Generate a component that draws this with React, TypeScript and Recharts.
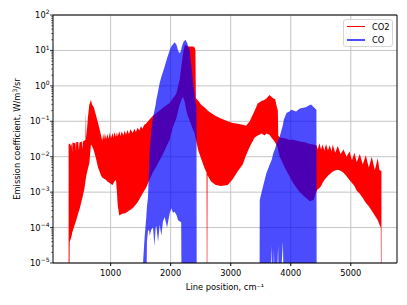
import { ComposedChart, Area, XAxis, YAxis, CartesianGrid, Legend, ReferenceLine } from 'recharts';

// [line position cm^-1, lower envelope, upper envelope] in W/m3/sr
const co2Envelope = [
  [300, 1e-6, 0.022], [312, 1e-6, 0.023], [318, 4e-5, 0.024], [340, 5e-5, 0.02],
  [352, 6e-5, 0.024], [358, 7e-5, 0.013], [364, 7.5e-5, 0.025], [395, 1.1e-4, 0.024],
  [415, 1.4e-4, 0.025], [421, 1.5e-4, 0.014], [427, 1.6e-4, 0.026], [460, 2.5e-4, 0.026],
  [472, 3e-4, 0.015], [480, 3.2e-4, 0.025], [520, 6e-4, 0.027], [530, 7e-4, 0.016],
  [538, 8e-4, 0.027], [562, 1.2e-3, 0.028], [580, 2e-3, 0.03], [588, 2.5e-3, 0.19],
  [596, 3e-3, 0.035], [620, 4.5e-3, 0.12], [645, 6.5e-3, 0.3], [672, 0.022, 0.4],
  [690, 0.02, 0.3], [720, 0.015, 0.25], [755, 9e-3, 0.15], [790, 5e-3, 0.09],
  [811, 4e-3, 0.065], [838, 3e-3, 0.042], [860, 2.6e-3, 0.028], [875, 2.5e-3, 0.045],
  [890, 2.4e-3, 0.03], [905, 2.3e-3, 0.046], [925, 2.2e-3, 0.031], [945, 2e-3, 0.044],
  [965, 1.9e-3, 0.032], [985, 1.8e-3, 0.048], [1005, 1.7e-3, 0.033], [1033, 1.6e-3, 0.047],
  [1050, 1.8e-3, 0.034], [1061, 2e-3, 0.05], [1089, 2.2e-3, 0.036], [1105, 1e-3, 0.05],
  [1117, 4.4e-4, 0.037], [1144, 2.2e-4, 0.052], [1165, 2.3e-4, 0.038], [1185, 2.4e-4, 0.053],
  [1210, 2.5e-4, 0.04], [1235, 2.5e-4, 0.055], [1256, 2.6e-4, 0.042], [1280, 2.8e-4, 0.057],
  [1305, 3e-4, 0.044], [1330, 3.2e-4, 0.06], [1367, 3.5e-4, 0.047], [1395, 4e-4, 0.062],
  [1420, 4.5e-4, 0.05], [1450, 5.2e-4, 0.066], [1478, 6.3e-4, 0.055], [1505, 7.5e-4, 0.072],
  [1530, 9e-4, 0.062], [1560, 1.1e-3, 0.08], [1589, 1.3e-3, 0.085], [1644, 2.2e-3, 0.11],
  [1700, 3.5e-3, 0.14], [1780, 6e-3, 0.18], [1872, 0.012, 0.24], [1983, 0.03, 0.33],
  [2039, 0.07, 0.45], [2094, 0.12, 0.6], [2150, 0.3, 1.5], [2178, 0.4, 3.5],
  [2206, 0.5, 8], [2233, 0.35, 14], [2261, 0.2, 14], [2280, 0.15, 13],
  [2320, 0.1, 13], [2372, 0.058, 13], [2400, 0.045, 12], [2412, 0.035, 10],
  [2420, 0.03, 0.45], [2460, 0.015, 0.38], [2505, 9e-3, 0.3], [2560, 5e-3, 0.25],
  [2598, 3.5e-3, 0.22], [2603, 1e-6, 0.21], [2609, 1e-6, 0.21], [2614, 3e-3, 0.2],
  [2672, 2e-3, 0.17], [2750, 1.6e-3, 0.14], [2839, 1.5e-3, 0.12], [2950, 1.6e-3, 0.1],
  [3033, 2.3e-3, 0.09], [3117, 3.9e-3, 0.085], [3200, 6e-3, 0.08], [3256, 0.011, 0.075],
  [3317, 0.019, 0.1], [3400, 0.035, 0.2], [3450, 0.04, 0.32], [3520, 0.045, 0.38],
  [3561, 0.04, 0.4], [3600, 0.045, 0.45], [3645, 0.042, 0.55], [3706, 0.03, 0.45],
  [3740, 0.025, 0.42], [3772, 0.02, 0.24], [3785, 0.018, 0.2], [3792, 0.015, 0.04],
  [3817, 0.01, 0.035], [3900, 5e-3, 0.033], [3970, 3e-3, 0.03], [4039, 1.8e-3, 0.03],
  [4150, 1e-3, 0.027], [4250, 7e-4, 0.025], [4317, 5.5e-4, 0.023], [4380, 6e-4, 0.022],
  [4428, 1.05e-3, 0.021], [4450, 1.2e-3, 0.016], [4478, 1.3e-3, 0.024], [4505, 1.5e-3, 0.016],
  [4530, 1.8e-3, 0.022], [4560, 2.2e-3, 0.015], [4588, 2.5e-3, 0.023], [4620, 2.9e-3, 0.015],
  [4650, 3.2e-3, 0.021], [4680, 3.6e-3, 0.014], [4700, 3.8e-3, 0.022], [4740, 4.1e-3, 0.013],
  [4783, 4.3e-3, 0.02], [4830, 4e-3, 0.012], [4880, 3.5e-3, 0.016], [4930, 2.8e-3, 0.01],
  [4978, 2.2e-3, 0.014], [5020, 1.8e-3, 0.008], [5061, 1.5e-3, 0.013], [5100, 1.1e-3, 0.007],
  [5150, 9e-4, 0.012], [5200, 6.8e-4, 0.006], [5250, 5e-4, 0.011], [5300, 4e-4, 0.005],
  [5350, 3e-4, 0.01], [5400, 2.2e-4, 0.0042], [5450, 1.6e-4, 0.009], [5478, 1.2e-4, 0.0042],
  [5500, 1e-4, 0.004], [5505, 1e-6, 0.004], [5511, 1e-6, 0.004],
];

const coEnvelope = [
  [1538, 1e-6, 1e-6], [1542, 1e-6, 1.2e-5], [1567, 1e-6, 5.6e-5], [1594, 1e-6, 2e-4],
  [1605, 4e-5, 4e-4], [1622, 8e-5, 7e-4], [1640, 8.5e-5, 5e-3], [1650, 6e-5, 0.015],
  [1680, 9e-5, 0.06], [1706, 1e-4, 0.13], [1730, 3e-5, 0.2], [1750, 1e-4, 0.3],
  [1761, 1.1e-4, 0.4], [1790, 4e-5, 0.7], [1817, 1.2e-4, 1.2], [1845, 6e-5, 1.8],
  [1872, 1.5e-4, 2.5], [1900, 2e-4, 3.5], [1940, 1e-4, 6], [1983, 2.5e-4, 10],
  [2010, 3.5e-4, 13], [2039, 2.6e-4, 15], [2067, 2.8e-4, 17], [2100, 2.2e-4, 14],
  [2122, 1.6e-4, 10], [2150, 1.5e-4, 8.3], [2175, 1.4e-4, 10], [2182, 1e-6, 12],
  [2210, 1e-6, 17], [2244, 1e-6, 20], [2270, 1e-6, 17], [2317, 1e-6, 10],
  [2350, 1e-6, 3], [2380, 1e-6, 1], [2410, 1e-6, 0.4], [2430, 1e-6, 0.25],
  [2434, 1e-6, 1e-6],
  [3480, 1e-6, 1e-6], [3484, 1e-6, 6e-4], [3540, 1e-6, 1.5e-3], [3594, 1e-6, 3.4e-3],
  [3650, 1e-6, 6e-3], [3680, 3e-5, 8e-3], [3690, 1e-6, 9e-3], [3706, 1e-6, 0.012],
  [3720, 2.5e-5, 0.014], [3735, 1e-6, 0.016], [3760, 1e-6, 0.022], [3790, 3e-5, 0.03],
  [3800, 1e-6, 0.032], [3817, 1e-6, 0.037], [3870, 4e-5, 0.08], [3885, 1e-6, 0.11],
  [3928, 1e-6, 0.17], [3978, 1e-6, 0.19], [4011, 1e-6, 0.21], [4089, 1e-6, 0.19],
  [4150, 1e-6, 0.23], [4250, 1e-6, 0.25], [4317, 1e-6, 0.29], [4339, 1e-6, 0.3],
  [4372, 1e-6, 0.26], [4428, 1e-6, 0.21], [4432, 1e-6, 1e-6],
];

const xTicks = [1000, 2000, 3000, 4000, 5000];
const yMajorTicks = [1e-5, 1e-4, 1e-3, 1e-2, 1e-1, 1, 10, 100];
const yExponents = ['−5', '−4', '−3', '−2', '−1', '0', '1', '2'];

const yMinorTicks: number[] = [];
yMajorTicks.slice(0, -1).forEach((base) => {
  for (let m = 2; m <= 9; m++) yMinorTicks.push(base * m);
});

const FONT = '"DejaVu Sans", sans-serif';
const RED = '#ff0000';
const BLUE = '#0000ff';

const toRows = (env: number[][]) => env.map(([x, lo, hi]) => ({ x, range: [lo, hi] }));
const co2Rows = toRows(co2Envelope);
const coRows = toRows(coEnvelope);

const LogTick = (props: any) => {
  const { x, y, payload } = props;
  const right = x + 3.5;
  const idx = yMajorTicks.findIndex((v) => Math.abs(Math.log10(v) - Math.log10(payload.value)) < 1e-6);
  if (idx < 0) {
    return <line x1={right - 1.8} x2={right} y1={y} y2={y} stroke="#000" strokeWidth={0.6} />;
  }
  return (
    <g>
      <line x1={right - 3} x2={right} y1={y} y2={y} stroke="#000" strokeWidth={0.8} />
      <text x={x} y={y + 3} textAnchor="end" fontSize={8.3} fontFamily={FONT} fill="#000">
        10<tspan dy={-3.8} fontSize={6}>{yExponents[idx]}</tspan>
      </text>
    </g>
  );
};

const YLabel = () => (
  <text
    x={17}
    y={139}
    transform="rotate(-90 17 139)"
    textAnchor="middle"
    dominantBaseline="central"
    fontSize={8.3}
    fontFamily={FONT}
    fill="#000"
  >
    Emission coefficient, W/m<tspan dy={-3} fontSize={6}>3</tspan>
    <tspan dy={3}>/sr</tspan>
  </text>
);

const legendItems = [
  { name: 'CO2', color: RED, opacity: 1 },
  { name: 'CO', color: BLUE, opacity: 0.7 },
];

const LegendBox = () => (
  <div
    style={{
      width: 50,
      height: 28,
      boxSizing: 'border-box',
      border: '1px solid #d6d6d6',
      borderRadius: 3,
      background: 'rgba(255,255,255,0.8)',
      fontFamily: FONT,
      fontSize: 8.3,
      color: '#000',
      position: 'relative',
    }}
  >
    {legendItems.map((item, i) => (
      <div key={item.name} style={{ position: 'absolute', left: 3, top: 1.5 + i * 13.7, height: 10, display: 'flex', alignItems: 'center' }}>
        <div style={{ width: 18, height: 1.5, background: item.color, opacity: item.opacity }} />
        <span style={{ marginLeft: 7, lineHeight: '10px' }}>{item.name}</span>
      </div>
    ))}
  </div>
);

export default function App() {
  return (
    <div style={{ position: 'absolute', left: 0, top: 0, width: 407, height: 305, background: '#fff' }}>
      <ComposedChart width={407} height={305} margin={{ top: 15, right: 10, left: 0, bottom: 0 }}>
        <CartesianGrid stroke="#c4c4c4" strokeWidth={1} horizontalValues={yMajorTicks} verticalValues={xTicks} />
        <XAxis
          type="number"
          dataKey="x"
          domain={[40, 5770]}
          allowDataOverflow
          ticks={xTicks}
          interval={0}
          tickSize={3}
          tickMargin={4}
          height={42}
          tick={{ fontSize: 8.3, fill: '#000', fontFamily: FONT }}
          tickLine={{ stroke: '#000' }}
          axisLine={{ stroke: '#000' }}
          label={{ value: 'Line position, cm⁻¹', position: 'insideBottom', offset: 15, fontSize: 8.3, fill: '#000', fontFamily: FONT }}
        />
        <YAxis
          type="number"
          scale="log"
          domain={[1e-5, 100]}
          allowDataOverflow
          ticks={[...yMajorTicks, ...yMinorTicks]}
          interval={0}
          tick={<LogTick />}
          tickLine={false}
          tickSize={3}
          tickMargin={0.5}
          width={53}
          axisLine={{ stroke: '#000' }}
          label={{ content: () => <YLabel /> }}
        />
        <Area
          name="CO2"
          data={co2Rows}
          dataKey="range"
          type="linear"
          fill={RED}
          fillOpacity={1}
          stroke="none"
          dot={false}
          activeDot={false}
          isAnimationActive={false}
        />
        <Area
          name="CO"
          data={coRows}
          dataKey="range"
          type="linear"
          fill={BLUE}
          fillOpacity={0.7}
          stroke="none"
          dot={false}
          activeDot={false}
          isAnimationActive={false}
        />
        <ReferenceLine y={100} stroke="#000" strokeWidth={1} />
        <ReferenceLine x={5770} stroke="#000" strokeWidth={1} />
        <Legend
          layout="horizontal"
          align="center"
          verticalAlign="middle"
          wrapperStyle={{ top: 19, left: 343, width: 50, height: 28 }}
          content={() => <LegendBox />}
        />
      </ComposedChart>
    </div>
  );
}
